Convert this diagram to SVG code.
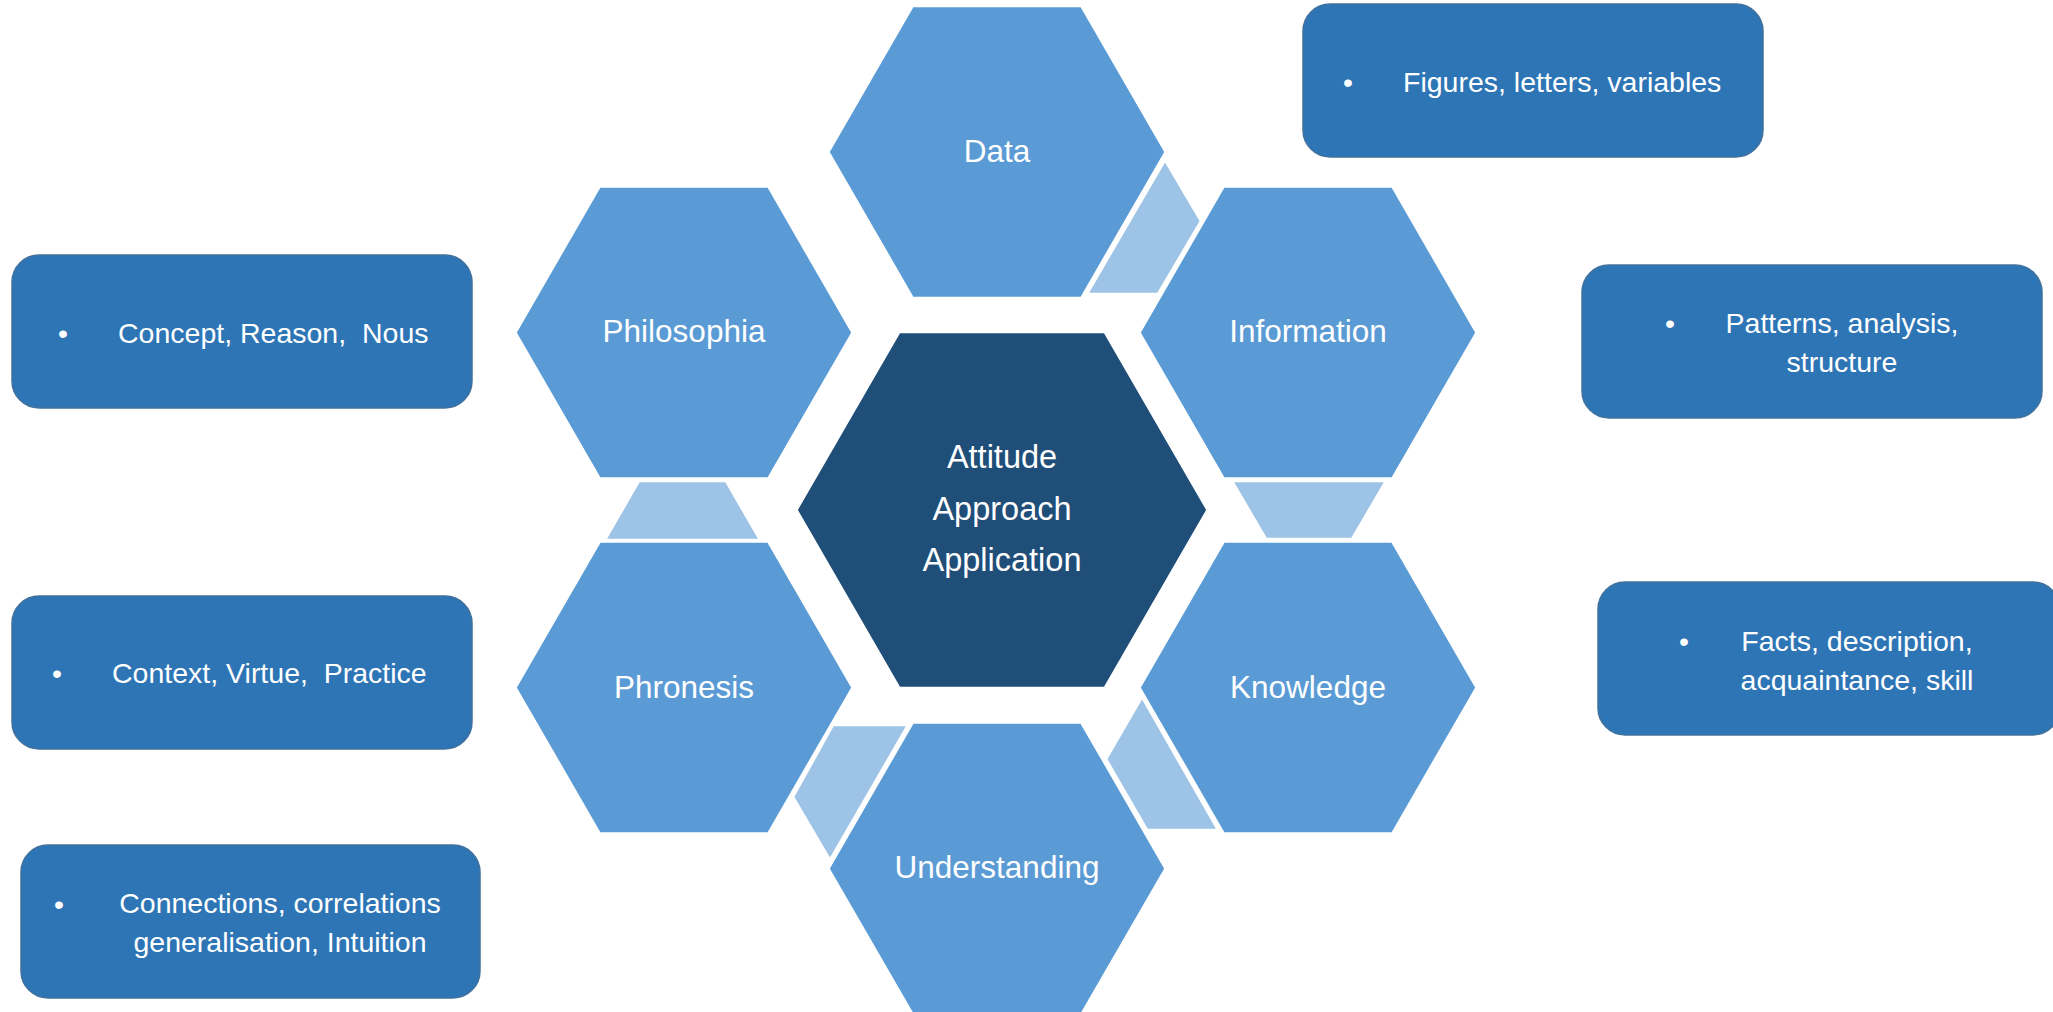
<svg xmlns="http://www.w3.org/2000/svg" width="2053" height="1012" viewBox="0 0 2053 1012">
<style>
.hex{fill:#5B9BD5;stroke:#ffffff;stroke-width:1.5}
.core{fill:#1F4E79;stroke:#ffffff;stroke-width:1.5}
.conn{fill:#9DC3E6;stroke:#ffffff;stroke-width:2.5}
.box{fill:#2E75B6;stroke:#41719C;stroke-width:1.5}
.lbl{font-family:"Liberation Sans",Arial,sans-serif;font-size:31.5px;fill:#ffffff;text-anchor:middle}
.big{font-size:32.5px}
.bt{font-family:"Liberation Sans",Arial,sans-serif;font-size:28.5px;fill:#ffffff;white-space:pre}
.mid{text-anchor:middle}
</style>
<rect width="2053" height="1012" fill="#ffffff"/>
<g id="connectors">
<polygon class="conn" points="1165,160 1201,221 1158,294 1087,294"/>
<polygon class="conn" points="1232,481 1386,481 1352,539 1266,539"/>
<polygon class="conn" points="1142,697 1218,830 1147,830 1106,759"/>
<polygon class="conn" points="833,725 908,725 830,860 793,797"/>
<polygon class="conn" points="639,481 726,481 760,540 605,540"/>
</g>
<g id="node-data">
<polygon class="hex" points="829,152 913,6.5 1081,6.5 1165,152 1081,297.5 913,297.5"/>
<text class="lbl" x="997" y="162">Data</text>
</g>
<g id="node-information">
<polygon class="hex" points="1140,332.5 1224,187 1392,187 1476,332.5 1392,478 1224,478"/>
<text class="lbl" x="1308" y="342">Information</text>
</g>
<g id="node-knowledge">
<polygon class="hex" points="1140,687.5 1224,542 1392,542 1476,687.5 1392,833 1224,833"/>
<text class="lbl" x="1308" y="698">Knowledge</text>
</g>
<g id="node-understanding">
<polygon class="hex" points="829,868.5 913,723 1081,723 1165,868.5 1081,1014 913,1014"/>
<text class="lbl" x="997" y="878">Understanding</text>
</g>
<g id="node-phronesis">
<polygon class="hex" points="516,687.5 600,542 768,542 852,687.5 768,833 600,833"/>
<text class="lbl" x="684" y="698">Phronesis</text>
</g>
<g id="node-philosophia">
<polygon class="hex" points="516,332.5 600,187 768,187 852,332.5 768,478 600,478"/>
<text class="lbl" x="684" y="342">Philosophia</text>
</g>
<g id="node-center">
<polygon class="core" points="797,510 899.5,332.5 1104.5,332.5 1207,510 1104.5,687.5 899.5,687.5"/>
<text class="lbl big" x="1002" y="468">Attitude</text>
<text class="lbl big" x="1002" y="520">Approach</text>
<text class="lbl big" x="1002" y="571">Application</text>
</g>
<g id="box-data">
<rect class="box" x="1303" y="4" width="460" height="153" rx="27"/>
<text class="bt mid" x="1348" y="92">•</text>
<text class="bt" x="1403" y="92">Figures, letters, variables</text>
</g>
<g id="box-information">
<rect class="box" x="1582" y="265" width="460" height="153" rx="27"/>
<text class="bt mid" x="1670" y="333">•</text>
<text class="bt mid" x="1842" y="333">Patterns, analysis,</text>
<text class="bt mid" x="1842" y="372">structure</text>
</g>
<g id="box-knowledge">
<rect class="box" x="1598" y="582" width="462" height="153" rx="27"/>
<text class="bt mid" x="1684" y="651">•</text>
<text class="bt mid" x="1857" y="651">Facts, description,</text>
<text class="bt mid" x="1857" y="690">acquaintance, skill</text>
</g>
<g id="box-philosophia">
<rect class="box" x="12" y="255" width="460" height="153" rx="27"/>
<text class="bt mid" x="63" y="343">•</text>
<text class="bt" x="118" y="343">Concept, Reason,  Nous</text>
</g>
<g id="box-phronesis">
<rect class="box" x="12" y="596" width="460" height="153" rx="27"/>
<text class="bt mid" x="57" y="683">•</text>
<text class="bt" x="112" y="683">Context, Virtue,  Practice</text>
</g>
<g id="box-understanding">
<rect class="box" x="21" y="845" width="459" height="153" rx="27"/>
<text class="bt mid" x="59" y="914">•</text>
<text class="bt mid" x="280" y="913">Connections, correlations</text>
<text class="bt mid" x="280" y="952">generalisation, Intuition</text>
</g>
</svg>
